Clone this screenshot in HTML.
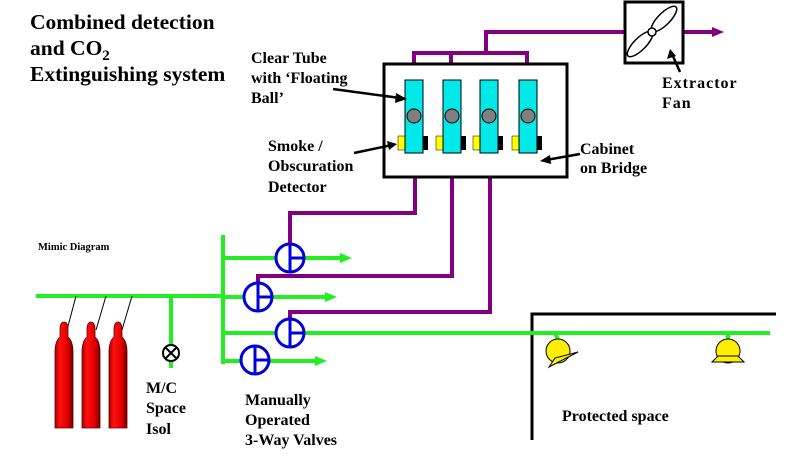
<!DOCTYPE html>
<html><head><meta charset="utf-8"><style>
html,body{margin:0;padding:0;background:#fff;}
svg{display:block;}
text{font-family:"Liberation Serif",serif;font-weight:bold;fill:#000;}
</style></head><body>
<svg width="793" height="467" viewBox="0 0 793 467" xmlns="http://www.w3.org/2000/svg">
<defs>
<linearGradient id="cyl" x1="0" x2="1"><stop offset="0" stop-color="#a00000"/><stop offset="0.25" stop-color="#ff1010"/><stop offset="0.7" stop-color="#e00000"/><stop offset="1" stop-color="#700000"/></linearGradient>
</defs>
<!-- Title -->
<text x="30" y="29" font-size="21.5">Combined detection</text>
<text x="30" y="55" font-size="21.5">and CO<tspan font-size="15" dy="5">2</tspan></text>
<text x="30" y="81" font-size="21.5">Extinguishing system</text>

<!-- purple top pipes -->
<g stroke="#800080" stroke-width="4" fill="none">
<polyline points="414,64 414,53 527,53 527,64"/>
<line x1="451" y1="53" x2="451" y2="64"/>
<polyline points="486,53 486,32 625,32"/>
<line x1="683" y1="32" x2="714" y2="32"/>
<polyline points="415,177 415,213 290,213 290,244"/>
<polyline points="452,177 452,276 258,276 258,284"/>
<polyline points="490,177 490,312 290,312 290,319"/>
</g>
<polygon points="712,27 724,32 712,37" fill="#800080"/>

<!-- fan -->
<rect x="625" y="2" width="58" height="61" fill="#fff" stroke="#000" stroke-width="3"/>
<g fill="#fff" stroke="#000" stroke-width="1.5">
<ellipse cx="664" cy="19" rx="17" ry="6" transform="rotate(-45 664 19)"/>
<ellipse cx="640" cy="44" rx="17" ry="6" transform="rotate(-45 640 44)"/>
<circle cx="652" cy="32" r="4"/>
</g>

<!-- cabinet -->
<rect x="384" y="64" width="183" height="113" fill="#fff" stroke="#000" stroke-width="3"/>
<g>
<rect x="398" y="136" width="8" height="14" fill="#ffff00" stroke="#000" stroke-width="0.5"/>
<rect x="423" y="136" width="5" height="14" fill="#000"/>
<rect x="405" y="80" width="18" height="73" fill="#00e8e8" stroke="#000"/>
<circle cx="414" cy="116" r="7" fill="#808080" stroke="#000"/>
<rect x="436" y="136" width="8" height="14" fill="#ffff00" stroke="#000" stroke-width="0.5"/>
<rect x="461" y="136" width="5" height="14" fill="#000"/>
<rect x="443" y="80" width="18" height="73" fill="#00e8e8" stroke="#000"/>
<circle cx="452" cy="116" r="7" fill="#808080" stroke="#000"/>
<rect x="473" y="136" width="8" height="14" fill="#ffff00" stroke="#000" stroke-width="0.5"/>
<rect x="498" y="136" width="5" height="14" fill="#000"/>
<rect x="480" y="80" width="18" height="73" fill="#00e8e8" stroke="#000"/>
<circle cx="489" cy="116" r="7" fill="#808080" stroke="#000"/>
<rect x="512" y="136" width="8" height="14" fill="#ffff00" stroke="#000" stroke-width="0.5"/>
<rect x="537" y="136" width="5" height="14" fill="#000"/>
<rect x="519" y="80" width="18" height="73" fill="#00e8e8" stroke="#000"/>
<circle cx="528" cy="116" r="7" fill="#808080" stroke="#000"/>
</g>

<!-- label arrows -->
<g stroke="#000" stroke-width="2.5">
<line x1="333" y1="89" x2="400" y2="98"/>
<line x1="354" y1="153" x2="392" y2="145"/>
<line x1="580" y1="154" x2="546" y2="160"/>
<line x1="680" y1="72" x2="672" y2="54"/>
</g>
<g fill="#000">
<polygon points="407,99 396,93 395,103"/>
<polygon points="397,144 387,141 389,150"/>
<polygon points="540,161 550,155 551,164"/>
<polygon points="670,49 667,59 676,56"/>
</g>

<g font-size="16">
<text x="251" y="63">Clear Tube</text>
<text x="251" y="83">with ‘Floating</text>
<text x="251" y="103">Ball’</text>
<text x="268" y="151">Smoke /</text>
<text x="268" y="171">Obscuration</text>
<text x="268" y="192">Detector</text>
<text x="580" y="154">Cabinet</text>
<text x="580" y="173">on Bridge</text>
<text x="662" y="88" letter-spacing="1">Extractor</text>
<text x="662" y="108" letter-spacing="1">Fan</text>
<text x="146" y="393">M/C</text>
<text x="146" y="413">Space</text>
<text x="146" y="434">Isol</text>
<text x="245" y="405">Manually</text>
<text x="245" y="425">Operated</text>
<text x="245" y="445">3-Way Valves</text>
<text x="562" y="421">Protected space</text>
</g>
<text x="38" y="250" font-size="10.5">Mimic Diagram</text>

<!-- protected space walls -->
<polyline points="532,440 532,314 776,314" fill="none" stroke="#000" stroke-width="3"/>

<!-- green pipes -->
<g stroke="#22ee22" stroke-width="4" fill="none">
<line x1="36" y1="296" x2="224" y2="296"/>
<line x1="223" y1="235" x2="223" y2="364"/>
<line x1="223" y1="258" x2="342" y2="258"/>
<line x1="223" y1="297" x2="327" y2="297"/>
<line x1="223" y1="333" x2="770" y2="333"/>
<line x1="223" y1="361" x2="317" y2="361"/>
<line x1="171" y1="296" x2="171" y2="368"/>
<line x1="555" y1="333" x2="558" y2="340"/>
<line x1="728" y1="333" x2="728" y2="340"/>
</g>
<g fill="#22ee22">
<polygon points="340,253 352,258 340,263"/>
<polygon points="325,292 337,297 325,302"/>
<polygon points="315,356 327,361 315,366"/>
</g>

<!-- valves -->
<g fill="#fff" stroke="#0000dd" stroke-width="3">
<circle cx="290" cy="258" r="14"/>
<circle cx="258" cy="297" r="14"/>
<circle cx="290" cy="333" r="14"/>
<circle cx="255" cy="360" r="14"/>
</g>
<g stroke="#0000dd" stroke-width="3">
<line x1="290" y1="244" x2="290" y2="272"/><line x1="290" y1="258" x2="304" y2="258"/>
<line x1="258" y1="283" x2="258" y2="311"/><line x1="258" y1="297" x2="272" y2="297"/>
<line x1="290" y1="319" x2="290" y2="347"/><line x1="290" y1="333" x2="304" y2="333"/>
<line x1="255" y1="346" x2="255" y2="374"/><line x1="255" y1="360" x2="269" y2="360"/>
</g>

<!-- isol valve -->
<circle cx="171" cy="353" r="8" fill="#fff" stroke="#000" stroke-width="2"/>
<g stroke="#000" stroke-width="2"><line x1="165.5" y1="347.5" x2="176.5" y2="358.5"/><line x1="176.5" y1="347.5" x2="165.5" y2="358.5"/></g>

<!-- cylinders -->
<g stroke="#000" stroke-width="1">
<line x1="76" y1="296" x2="67" y2="330"/>
<line x1="106" y1="296" x2="96" y2="330"/>
<line x1="132" y1="296" x2="122" y2="330"/>
</g>
<g fill="url(#cyl)" stroke="#600000" stroke-width="0.8">
<path d="M55,428 L55,352 Q55,341 60,337 L60,330 Q60,322 64,322 Q68,322 68,330 L68,337 Q73,341 73,352 L73,428 Z"/>
<path d="M82,428 L82,352 Q82,341 87,337 L87,330 Q87,322 91,322 Q95,322 95,330 L95,337 Q100,341 100,352 L100,428 Z"/>
<path d="M109,428 L109,352 Q109,341 114,337 L114,330 Q114,322 118,322 Q122,322 122,330 L122,337 Q127,341 127,352 L127,428 Z"/>
</g>

<!-- nozzles -->
<g fill="#ffee00" stroke="#000" stroke-width="1">
<circle cx="558" cy="351" r="12"/>
<polygon points="549,367 555,358 578,352"/>
<circle cx="728" cy="351" r="12"/>
<polygon points="712,362 744,362 738,356 718,356"/>
</g>
</svg>
</body></html>
